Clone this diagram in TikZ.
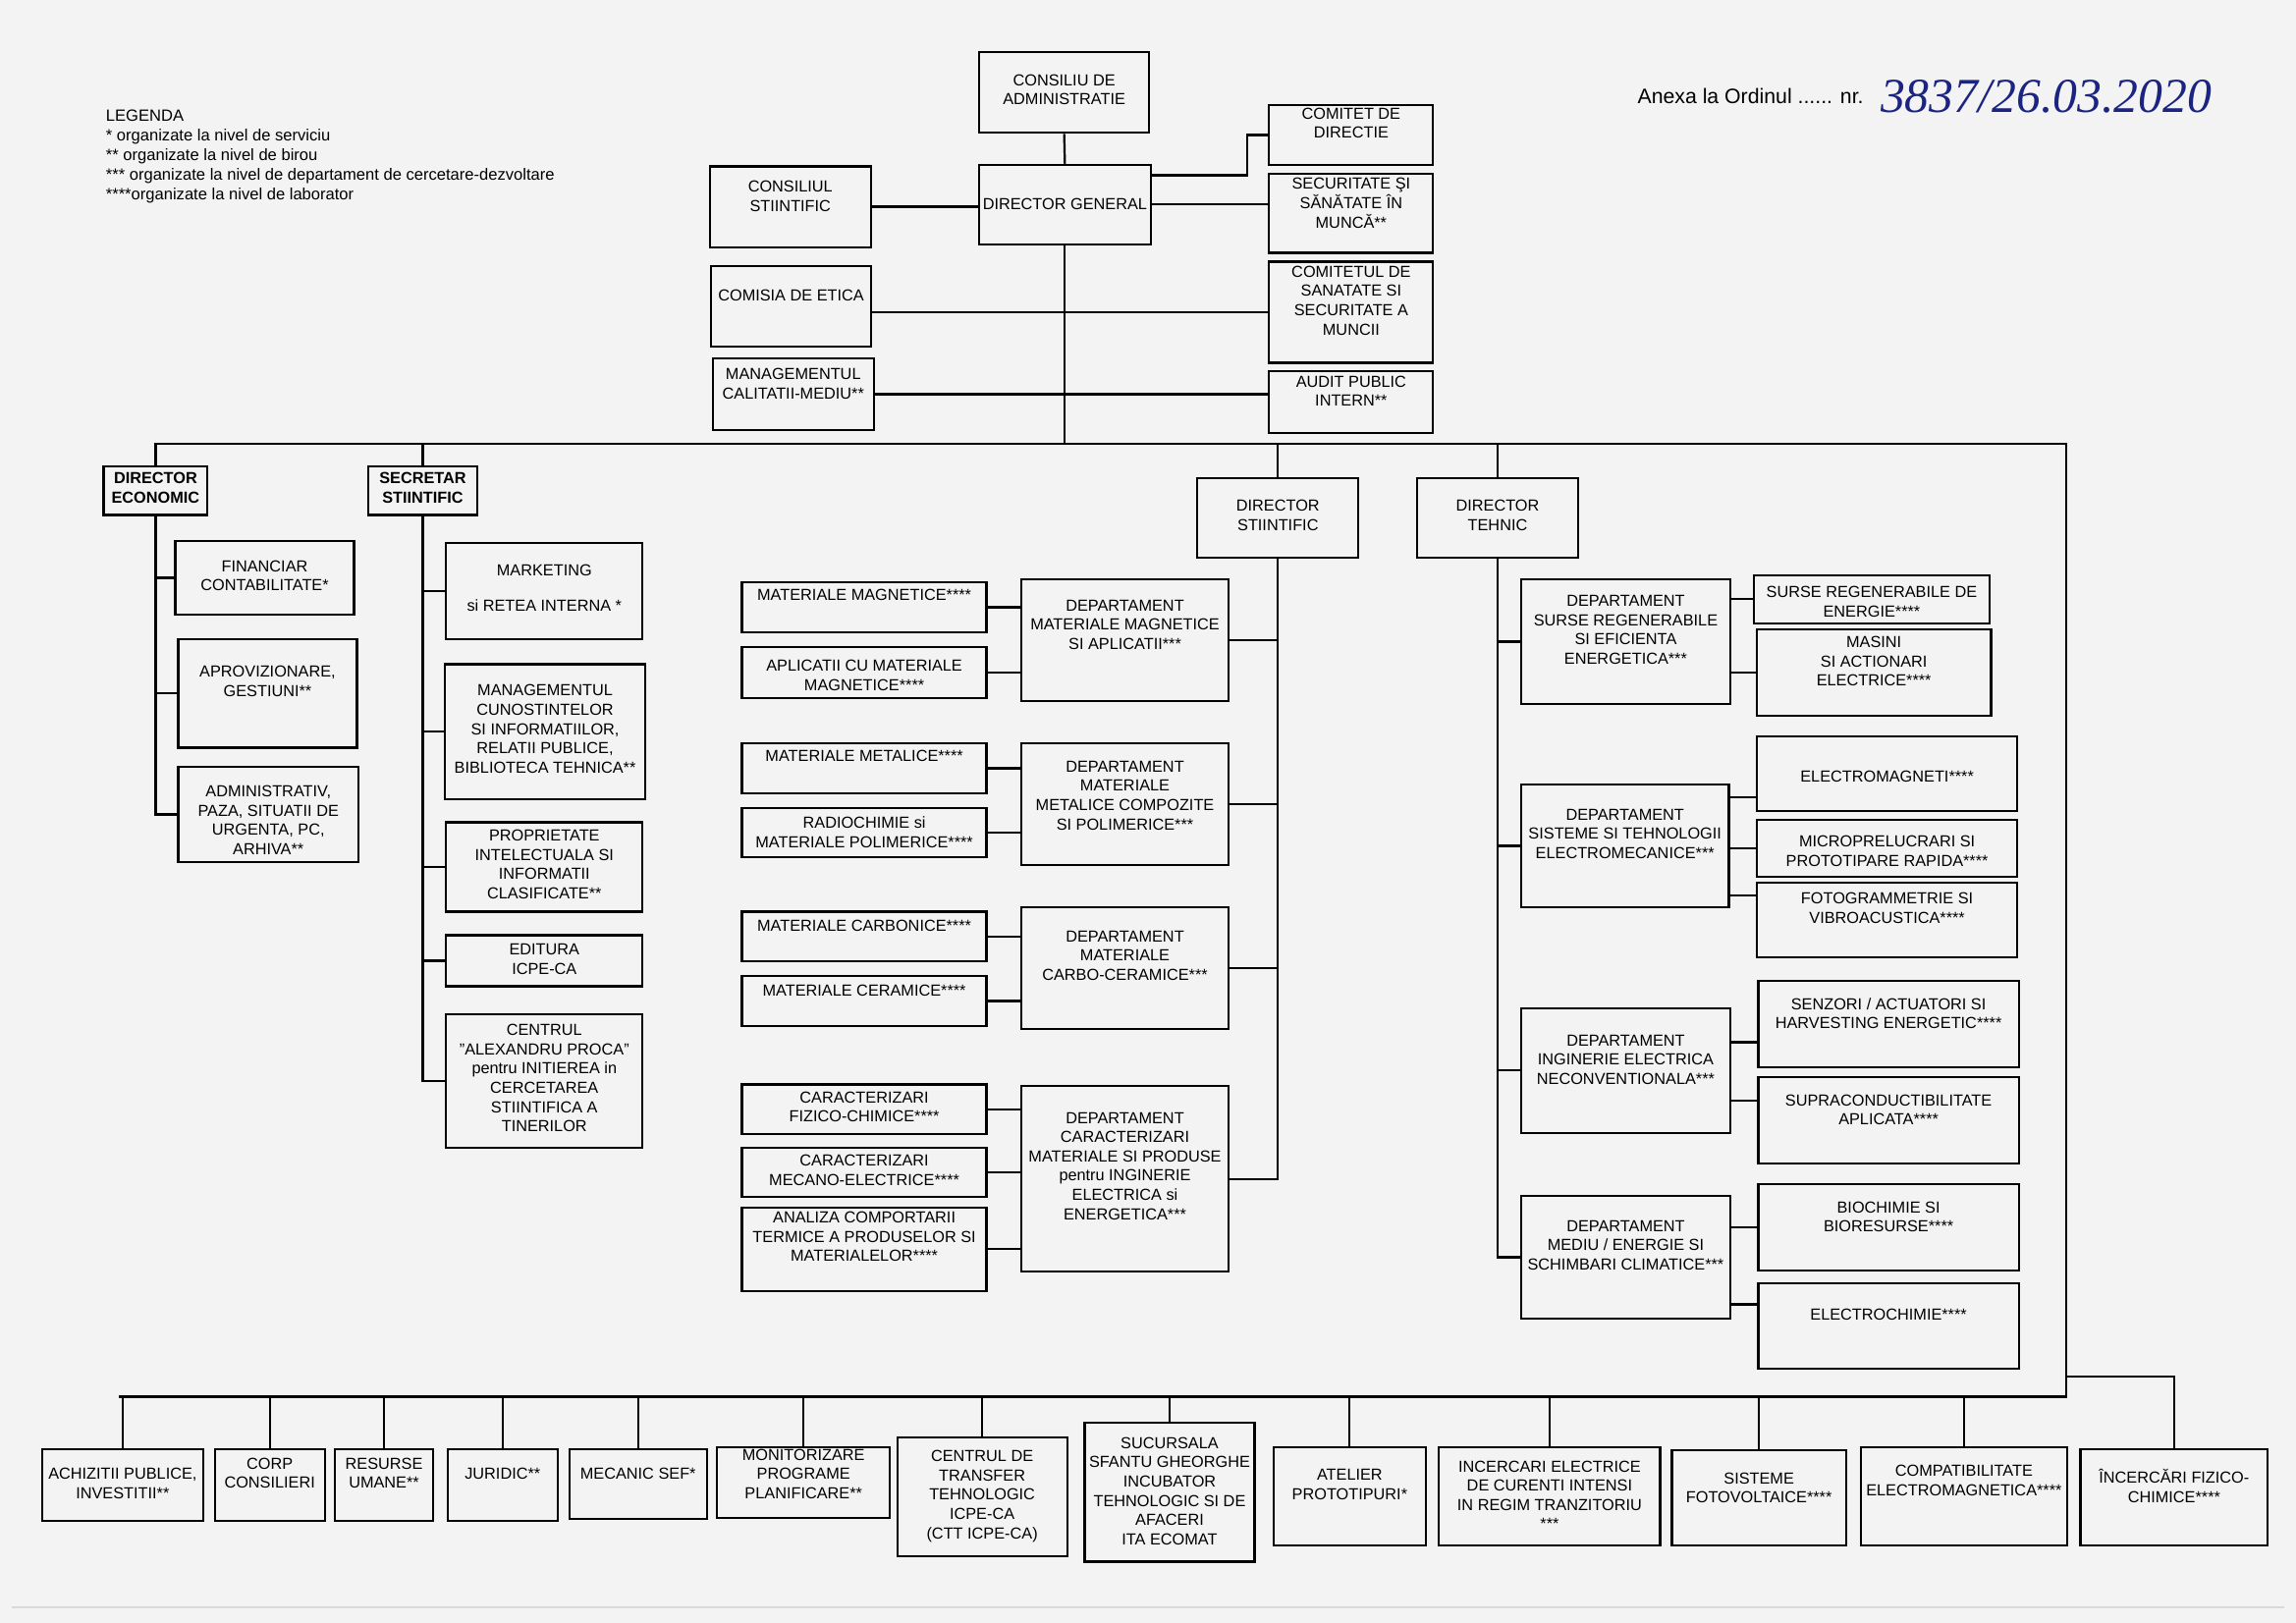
\documentclass[tikz,border=0pt]{standalone}
\usepackage{fontspec}
\setmainfont{Liberation Sans}
\newfontfamily\handfont{Liberation Serif}
\usepackage{tikz}
\definecolor{paper}{RGB}{243,243,243}
\definecolor{ink}{RGB}{28,36,130}
\newlength{\px}
\setlength{\px}{0.54pt}
\tikzset{
  every node/.style={font=\fontsize{5.9}{7.1}\selectfont},
  unit/.style n args={3}{draw, line width=0.8pt, inner sep=0pt, anchor=north west,
    execute at begin node={\begin{minipage}[c][#2\px][t]{#1\px}\centering\vspace*{#3\px}},
    execute at end node={\end{minipage}}},
  head/.style={font=\fontsize{5.9}{7.1}\selectfont\bfseries},
  link/.style={line width=0.8pt}
}

\begin{document}
\begin{tikzpicture}[x=\px, y=-\px]
\fill[paper] (0,0) rectangle (1568,1108.6);
\draw[gray!30, line width=0.6pt] (8,1098) -- (1560,1098); % scan edge

\node[anchor=north west, align=left, inner sep=0pt, font=\fontsize{6}{7.2}\selectfont] (leg) at (72,75) {LEGENDA\\* organizate la nivel de serviciu\\** organizate la nivel de birou\\*** organizate la nivel de departament de cercetare-dezvoltare\\****organizate la nivel de laborator};
\node[anchor=base west, inner sep=0pt, font=\fontsize{7.7}{9}\selectfont] (anexa) at (1118,71) {Anexa la Ordinul ...... nr.};
\node[anchor=base west, inner sep=0pt, text=ink, font=\handfont\itshape\fontsize{18}{21}\selectfont] (nr) at (1284,77) {3837/26.03.2020};

% conducere
\node[unit={116}{55}{15}] (ca) at (668,35) {CONSILIU DE\\ADMINISTRATIE};
\node[unit={117}{54}{23}] (dg) at (668,112) {DIRECTOR GENERAL};
\node[unit={110}{55}{10}] (cs) at (484,113) {CONSILIUL\\STIINTIFIC};
\node[unit={109}{55}{16}] (ce) at (485,181) {COMISIA DE ETICA};
\node[unit={110}{49}{7}] (mcm) at (486,244) {MANAGEMENTUL\\CALITATII-MEDIU**};
\node[unit={112}{41}{2}] (cdir) at (866,71) {COMITET DE\\DIRECTIE};
\node[unit={112}{54}{3}] (ssm) at (866,118) {SECURITATE ŞI\\SĂNĂTATE ÎN\\MUNCĂ**};
\node[unit={112}{69}{3}] (cssm) at (866,178) {COMITETUL DE\\SANATATE SI\\SECURITATE A\\MUNCII};
\node[unit={112}{42}{3}] (api) at (866,253) {AUDIT PUBLIC\\INTERN**};

\node[unit={71}{33}{4}, head] (de) at (70,318) {DIRECTOR\\ECONOMIC};
\node[unit={74}{33}{4}, head] (ss) at (251,318) {SECRETAR\\STIINTIFIC};
\node[unit={110}{54}{15}] (dst) at (817,326) {DIRECTOR\\STIINTIFIC};
\node[unit={110}{54}{15}] (dt) at (967,326) {DIRECTOR\\TEHNIC};

% director economic
\node[unit={122}{50}{13}] (fin) at (119,369) {FINANCIAR\\CONTABILITATE*};
\node[unit={122}{74}{18}] (apr) at (121,436) {APROVIZIONARE,\\GESTIUNI**};
\node[unit={123}{65}{13}] (adm) at (121,523) {ADMINISTRATIV,\\PAZA, SITUATII DE\\URGENTA, PC,\\ARHIVA**};

% secretar stiintific
\node[unit={134}{66}{15}] (mkt) at (304,370) {MARKETING\\[5.9pt]si RETEA INTERNA *};
\node[unit={137}{92}{14}] (mci) at (303,453) {MANAGEMENTUL\\CUNOSTINTELOR\\SI INFORMATIILOR,\\RELATII PUBLICE,\\BIBLIOTECA TEHNICA**};
\node[unit={134}{61}{5}] (pic) at (304,561) {PROPRIETATE\\INTELECTUALA  SI\\INFORMATII\\CLASIFICATE**};
\node[unit={134}{35}{6}] (edi) at (304,638) {EDITURA\\ICPE-CA};
\node[unit={134}{91}{7}] (cap) at (304,692) {CENTRUL\\"ALEXANDRU PROCA"\\pentru INITIEREA in\\CERCETAREA\\STIINTIFICA A\\TINERILOR};

% director stiintific
\node[unit={141}{83}{14}] (d1) at (697,395) {DEPARTAMENT\\MATERIALE MAGNETICE\\SI APLICATII***};
\node[unit={141}{83}{12}] (d2) at (697,507) {DEPARTAMENT\\MATERIALE\\METALICE COMPOZITE\\SI POLIMERICE***};
\node[unit={141}{83}{16}] (d3) at (697,619) {DEPARTAMENT\\MATERIALE\\CARBO-CERAMICE***};
\node[unit={141}{127}{18}] (d4) at (697,741) {DEPARTAMENT\\CARACTERIZARI\\MATERIALE SI PRODUSE\\pentru INGINERIE\\ELECTRICA si\\ENERGETICA***};
\node[unit={167}{34}{5}] (mm) at (506,397) {MATERIALE MAGNETICE****};
\node[unit={167}{35}{9}] (acm) at (506,441) {APLICATII CU MATERIALE\\MAGNETICE****};
\node[unit={167}{34}{5}] (mme) at (506,507) {MATERIALE METALICE****};
\node[unit={167}{34}{6}] (rmp) at (506,551) {RADIOCHIMIE si\\MATERIALE POLIMERICE****};
\node[unit={167}{34}{6}] (mca) at (506,622) {MATERIALE CARBONICE****};
\node[unit={167}{34}{6}] (mce) at (506,666) {MATERIALE CERAMICE****};
\node[unit={167}{34}{5}] (cfc) at (506,740) {CARACTERIZARI\\FIZICO-CHIMICE****};
\node[unit={167}{34}{5}] (cme) at (506,783) {CARACTERIZARI\\MECANO-ELECTRICE****};
\node[unit={167}{57}{3}] (act) at (506,824) {ANALIZA COMPORTARII\\TERMICE A PRODUSELOR SI\\MATERIALELOR****};

% director tehnic
\node[unit={143}{85}{11}] (rd1) at (1038,395) {DEPARTAMENT\\SURSE REGENERABILE\\SI EFICIENTA\\ENERGETICA***};
\node[unit={142}{84}{17}] (rd2) at (1038,535) {DEPARTAMENT\\SISTEME SI TEHNOLOGII\\ELECTROMECANICE***};
\node[unit={143}{85}{18}] (rd3) at (1038,688) {DEPARTAMENT\\INGINERIE ELECTRICA\\NECONVENTIONALA***};
\node[unit={143}{84}{17}] (rd4) at (1038,816) {DEPARTAMENT\\MEDIU / ENERGIE SI\\SCHIMBARI CLIMATICE***};
\node[unit={161}{33}{8}] (sre) at (1197,392) {SURSE REGENERABILE DE\\ENERGIE****};
\node[unit={160}{59}{5}] (msa) at (1199,429) {MASINI\\SI ACTIONARI\\ELECTRICE****};
\node[unit={178}{51}{24}] (elm) at (1199,502) {ELECTROMAGNETI****};
\node[unit={178}{39}{11}] (mpr) at (1199,559) {MICROPRELUCRARI SI\\PROTOTIPARE RAPIDA****};
\node[unit={178}{51}{7}] (fvb) at (1199,602) {FOTOGRAMMETRIE SI\\VIBROACUSTICA****};
\node[unit={178}{59}{12}] (sah) at (1200,669) {SENZORI / ACTUATORI SI\\HARVESTING ENERGETIC****};
\node[unit={178}{59}{12}] (sca) at (1200,735) {SUPRACONDUCTIBILITATE\\APLICATA****};
\node[unit={178}{59}{12}] (bio) at (1200,808) {BIOCHIMIE  SI\\BIORESURSE****};
\node[unit={178}{58}{17}] (ech) at (1200,876) {ELECTROCHIMIE****};

% compartimente subordonate direct
\node[unit={110}{49}{13}] (ach) at (28,989) {ACHIZITII PUBLICE,\\INVESTITII**};
\node[unit={75}{49}{6}] (crp) at (146,989) {CORP\\CONSILIERI};
\node[unit={67}{49}{6}] (ru) at (228,989) {RESURSE\\UMANE**};
\node[unit={75}{49}{13}] (jur) at (305,989) {JURIDIC**};
\node[unit={94}{48}{13}] (mec) at (388,989) {MECANIC SEF*};
\node[unit={118}{48}{1}] (mon) at (489,988) {MONITORIZARE\\PROGRAME\\PLANIFICARE**};
\node[unit={116}{81}{9}] (ctt) at (612,981) {CENTRUL DE\\TRANSFER\\TEHNOLOGIC\\ICPE-CA\\(CTT ICPE-CA)};
\node[unit={116}{95}{10}] (suc) at (740,971) {SUCURSALA\\SFANTU GHEORGHE\\INCUBATOR\\TEHNOLOGIC SI DE\\AFACERI\\ITA ECOMAT};
\node[unit={104}{67}{15}] (atl) at (869,988) {ATELIER\\PROTOTIPURI*};
\node[unit={151}{67}{9}] (ice) at (982,988) {INCERCARI ELECTRICE\\DE CURENTI INTENSI\\IN REGIM TRANZITORIU\\****};
\node[unit={119}{65}{15}] (sfv) at (1141,990) {SISTEME\\FOTOVOLTAICE****};
\node[unit={141}{67}{12}] (cem) at (1270,988) {COMPATIBILITATE\\ELECTROMAGNETICA****};
\node[unit={128}{66}{14}] (ifc) at (1420,989) {ÎNCERCĂRI FIZICO-\\CHIMICE****};

% legaturi
\coordinate (busL) at (105,303);
\coordinate (busR) at (1411,303);
\coordinate (botL) at (81,954);
\coordinate (botR) at (1411,954);
\coordinate (ifcJ) at (1411,940);

\draw[link] (busL) -- (busR) -- (botR) -- (botL);
\draw[link] (ca.south) -- (dg.north);
\draw[link] (cs.east) -- (cs.east -| dg.west);
\draw[link] ([yshift=10.8pt]dg.east) -- ++(65,0) |- (cdir.west);
\draw[link] (dg.east) -- (dg.east -| ssm.west);
\draw[link] (dg.south) -- (dg.south |- busL);
\draw[link] (ce.east |- cssm.west) -- (cssm.west);
\draw[link] (mcm.east) -- (mcm.east -| api.west);
\foreach \n in {de,ss,dst,dt}
  \draw[link] (\n.north) -- (\n.north |- busL);
\foreach \n in {fin,apr,adm}
  \draw[link] (de.south) |- (\n.west);
\foreach \n in {mkt,mci,pic,edi,cap}
  \draw[link] (ss.south) |- (\n.west);
\foreach \n in {d1,d2,d3,d4}
  \draw[link] (dst.south) |- (\n.east);
\foreach \lab/\dep in {mm/d1,acm/d1,mme/d2,rmp/d2,mca/d3,mce/d3,cfc/d4,cme/d4,act/d4}
  \draw[link] (\lab.east) -- (\lab.east -| \dep.west);
\foreach \n in {rd1,rd2,rd3,rd4}
  \draw[link] (dt.south) |- (\n.west);
\foreach \lab/\dep/\dy in {sre/rd1/0,msa/rd1/0,elm/rd2/-8.9,mpr/rd2/0,fvb/rd2/8.9,sah/rd3/-6.8,sca/rd3/7.3,bio/rd4/0,ech/rd4/8}
  \draw[link] ([yshift=\dy pt]\lab.west) -- ([yshift=\dy pt]\lab.west -| \dep.east);
\foreach \n in {ach,crp,ru,jur,mec,mon,ctt,suc,atl,ice,sfv,cem}
  \draw[link] (\n.north) -- (\n.north |- botL);
\draw[link] (ifcJ) -| (ifc.north);
\end{tikzpicture}
\end{document}
